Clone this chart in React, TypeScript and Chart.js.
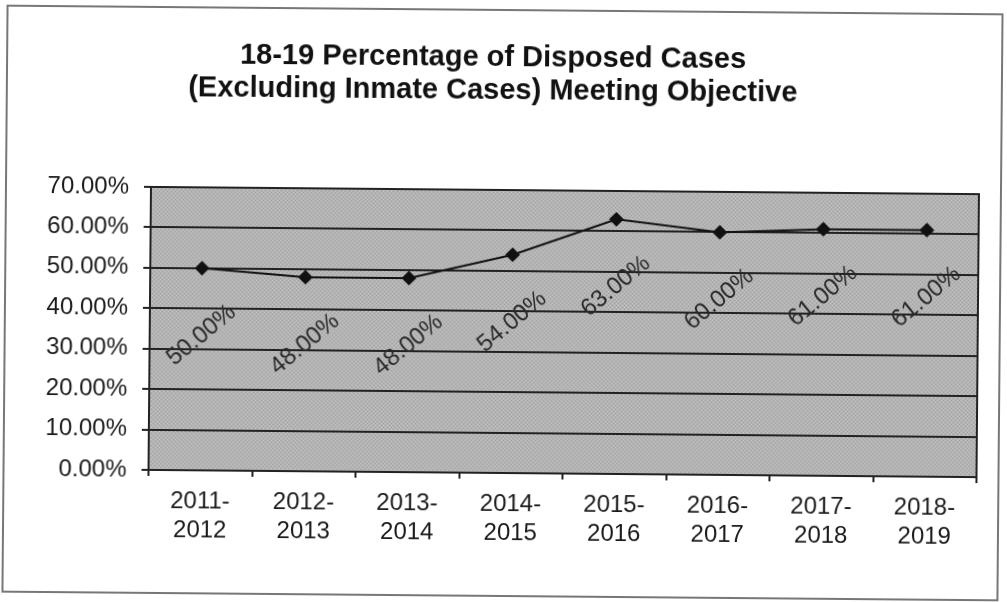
import React, { useEffect, useRef } from 'react';
import { Chart, registerables } from 'chart.js';

Chart.register(...registerables);

const titleLines = ['18-19 Percentage of Disposed Cases', '(Excluding Inmate Cases) Meeting Objective'];
const categories = [
  ['2011-', '2012'],
  ['2012-', '2013'],
  ['2013-', '2014'],
  ['2014-', '2015'],
  ['2015-', '2016'],
  ['2016-', '2017'],
  ['2017-', '2018'],
  ['2018-', '2019'],
];
const values = [50, 48, 48, 54, 63, 60, 61, 61];
const yTicks = [0, 10, 20, 30, 40, 50, 60, 70];

const FONT = '"Liberation Sans", Arial, sans-serif';

export default function App() {
  const ref = useRef<HTMLCanvasElement>(null);

  useEffect(() => {
    document.body.style.margin = '0';
    const canvas = ref.current!;

    const pc = document.createElement('canvas');
    pc.width = 4;
    pc.height = 4;
    const pctx = pc.getContext('2d')!;
    pctx.fillStyle = '#b4b4b4';
    pctx.fillRect(0, 0, 4, 4);
    pctx.fillStyle = '#9e9e9e';
    pctx.fillRect(0, 0, 1, 1);
    pctx.fillRect(2, 2, 1, 1);
    pctx.fillStyle = '#c4c4c4';
    pctx.fillRect(2, 0, 1, 1);
    pctx.fillRect(0, 2, 1, 1);

    const bgPlugin = {
      id: 'plotBg',
      beforeDraw(chart: any) {
        const { ctx, chartArea: a } = chart;
        ctx.save();
        ctx.fillStyle = ctx.createPattern(pc, 'repeat');
        ctx.fillRect(a.left, a.top, a.right - a.left, a.bottom - a.top);
        ctx.restore();
      },
    };

    const framePlugin = {
      id: 'frame',
      afterDraw(chart: any) {
        const { ctx, chartArea: a } = chart;
        ctx.save();
        ctx.strokeStyle = '#222';
        ctx.lineWidth = 2;
        ctx.strokeRect(a.left, a.top, a.right - a.left, a.bottom - a.top);
        ctx.strokeStyle = '#777';
        ctx.lineWidth = 2;
        ctx.strokeRect(5, 10, 995, 586);
        ctx.fillStyle = '#111';
        ctx.font = `bold 29px ${FONT}`;
        ctx.textAlign = 'center';
        ctx.textBaseline = 'middle';
        ctx.fillText(titleLines[0], 491, 58);
        ctx.fillText(titleLines[1], 491, 91);
        ctx.restore();
      },
    };

    const labelPlugin = {
      id: 'valueLabels',
      afterDatasetsDraw(chart: any) {
        const { ctx } = chart;
        const meta = chart.getDatasetMeta(0);
        ctx.save();
        ctx.fillStyle = '#2a2a2a';
        ctx.font = `24px ${FONT}`;
        ctx.textAlign = 'center';
        ctx.textBaseline = 'middle';
        meta.data.forEach((pt: any, i: number) => {
          ctx.save();
          ctx.translate(pt.x, pt.y + 67);
          ctx.rotate((-40 * Math.PI) / 180);
          ctx.fillText(values[i].toFixed(2) + '%', 0, 0);
          ctx.restore();
        });
        ctx.restore();
      },
    };

    const chart = new Chart(canvas, {
      type: 'line',
      data: {
        labels: categories as any,
        datasets: [
          {
            data: values,
            borderColor: '#111',
            borderWidth: 2,
            pointStyle: 'rectRot',
            pointRadius: 6,
            pointBackgroundColor: '#111',
            pointBorderColor: '#111',
            tension: 0,
          },
        ],
      },
      options: {
        responsive: false,
        animation: false,
        layout: { padding: { top: 190, right: 29, left: 0, bottom: 0 } },
        plugins: {
          legend: { display: false },
          tooltip: { enabled: false },
          title: { display: false },
        },
        scales: {
          x: {
            offset: true,
            grid: {
              display: true,
              drawOnChartArea: false,
              drawTicks: true,
              tickLength: 6,
              color: '#222',
              lineWidth: 2,
              offset: true,
            },
            border: { display: true, color: '#222', width: 2 },
            ticks: {
              font: { size: 24, family: FONT, lineHeight: 1.2 },
              color: '#1a1a1a',
              padding: 11,
              maxRotation: 0,
              autoSkip: false,
            },
            afterFit: (s: any) => {
              s.height = 129;
            },
          },
          y: {
            min: 0,
            max: 70,
            afterBuildTicks: (s: any) => {
              s.ticks = yTicks.map((v) => ({ value: v }));
            },
            ticks: {
              callback: (v: any) => Number(v).toFixed(2) + '%',
              font: { size: 24, family: FONT },
              color: '#1a1a1a',
              padding: 15,
            },
            grid: { color: '#222', lineWidth: 2, tickLength: 7 },
            border: { display: true, color: '#222', width: 2 },
            afterFit: (s: any) => {
              s.width = 150;
            },
          },
        },
      },
      plugins: [bgPlugin, labelPlugin, framePlugin],
    });

    return () => chart.destroy();
  }, []);

  return (
    <canvas
      ref={ref}
      width={1007}
      height={602}
      style={{ display: 'block', width: 1007, height: 602, transform: 'rotate(0.5deg)' }}
    />
  );
}
